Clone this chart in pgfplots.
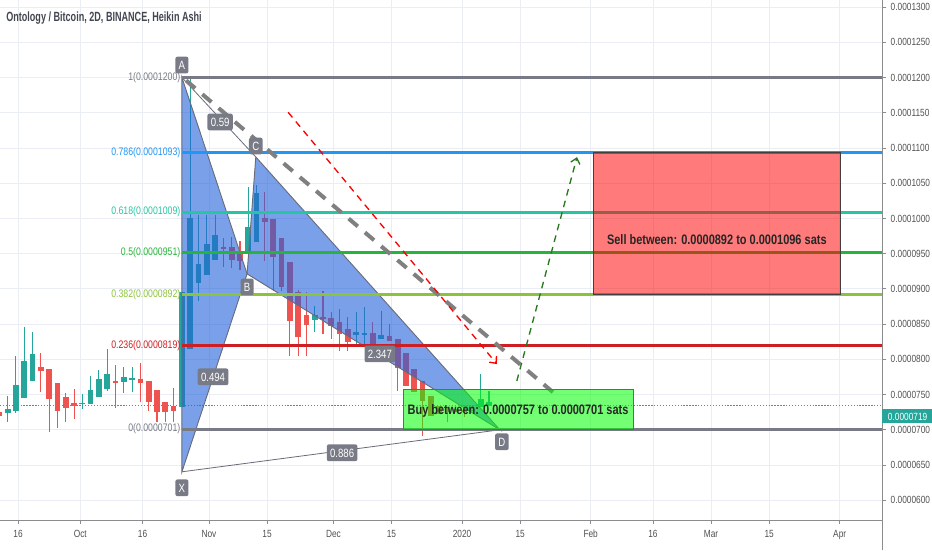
\documentclass[border=0pt]{standalone}
\usepackage{pgfplots}
\usepackage{pgfplotstable}
\pgfplotsset{compat=1.18}
\usetikzlibrary{arrows.meta}
\usepackage{fontspec}
\setmainfont{Liberation Sans}[FakeStretch=0.8]
\newfontfamily\condfont{Liberation Sans}[FakeStretch=0.68]

\definecolor{upcol}{RGB}{38,166,154}
\definecolor{dncol}{RGB}{239,83,80}
\definecolor{pat}{RGB}{33,96,220}
\definecolor{patedge}{RGB}{105,108,120}
\definecolor{lbl}{RGB}{120,123,134}
\definecolor{fibgray}{RGB}{120,123,134}
\definecolor{fibblue}{RGB}{33,150,243}
\definecolor{fibteal}{RGB}{38,198,160}
\definecolor{fibgreen}{RGB}{40,180,60}
\definecolor{fiblime}{RGB}{140,195,60}
\definecolor{fibred}{RGB}{205,30,35}
\definecolor{gridc}{RGB}{234,237,243}
\definecolor{tickc}{RGB}{80,80,80}
\definecolor{axc}{RGB}{140,140,140}
\definecolor{titlec}{RGB}{67,70,81}
\definecolor{arrgreen}{RGB}{40,120,30}

% prices in units of 1e-7 BTC (1200 = 0.0001200), x = days after 1 Sep 2019
% Heikin Ashi 2D candles: d open high low close
\pgfplotstableread{
d o h l c
12.5 724.1 748.1 711.3 729.7
14.5 726.9 804.6 724.0 763.6
16.5 745.3 845.5 745.3 797.5
18.5 769.2 838.5 769.2 807.4
30.5 736.8 750.9 729.7 738.2
32.5 736.8 776.3 736.8 756.6
34.5 746.7 784.8 746.7 772.1
36.5 758.0 814.4 755.1 779.2
40.5 767.8 789.0 752.3 774.9
42.5 770.7 789.0 753.7 773.5
54.5 732.5 895.0 732.5 895.0
56.5 814.4 1200 814.4 1000.9
58.5 907.7 1005.1 882.3 935.9
60.5 920.4 1005.1 920.4 964.2
62.5 941.6 1005.1 941.6 976.9
70.5 951.5 1044.7 951.5 988.2
72.5 967.0 1047.5 967.0 1036.2
86.5 855.4 875.2 838.5 862.5
96.5 834.2 866.7 821.5 838.5
98.5 835.6 873.8 821.5 837.1
102.5 828.6 868.1 828.6 834.2
126.5 732.5 779.2 732.5 743.8
128.5 733.9 755.1 733.9 739.6
}\upcandles

\pgfplotstableread{
d o h l c
10.5 725.5 743.8 691.6 719.8
20.5 789.0 808.8 753.7 783.4
22.5 786.2 786.2 697.2 743.8
24.5 766.4 766.4 702.9 726.9
26.5 746.7 752.3 711.3 731.1
28.5 738.2 758.0 715.6 733.9
38.5 769.2 791.8 731.1 767.8
44.5 772.1 794.7 739.6 766.4
46.5 769.2 769.2 726.9 739.6
48.5 756.6 756.6 711.3 725.5
50.5 739.6 739.6 711.3 725.5
52.5 733.9 759.4 711.3 726.9
64.5 959.9 972.7 931.7 957.1
66.5 959.9 974.0 930.0 941.6
68.5 954.3 967.4 927.5 940.2
74.5 1000.9 1038.0 939.0 995.2
76.5 999.5 999.5 896.4 945.8
78.5 972.7 972.7 896.4 902.0
80.5 938.7 938.7 804.6 854.0
82.5 895.0 898.0 804.6 831.4
84.5 862.5 895.0 804.6 848.3
88.5 859.6 896.4 835.6 856.8
90.5 858.2 866.7 828.6 846.9
92.5 852.6 871.0 811.6 835.6
94.5 842.7 859.6 811.6 824.3
100.5 837.1 852.6 821.5 821.5
104.5 832.8 849.8 825.8 825.8
106.5 828.6 828.6 755.1 787.6
108.5 808.8 808.8 762.2 762.2
110.5 786.2 786.2 753.7 753.7
112.5 769.2 769.2 691.6 741.0
114.5 748.1 748.1 719.8 719.8
116.5 733.9 733.9 722.7 722.7
118.5 732.5 732.5 711.3 725.5
120.5 729.7 729.7 725.5 725.5
122.5 728.3 729.0 718.0 725.5
124.5 728.3 728.3 726.9 726.9
}\dncandles

\pgfplotsset{
  wick/.style={draw=none, mark=none, forget plot,
    error bars/.cd, y dir=both, y explicit, error mark=none,
    error bar style={draw=#1, line width=0.8pt}},
  body/.style={draw=none, mark=none, forget plot,
    error bars/.cd, y dir=both, y explicit, error mark=none,
    error bar style={draw=#1, line width=4.3pt}},
}
\tikzset{
  pl/.style={fill=lbl, text=white, rounded corners=1.5pt, inner xsep=2.5pt,
    inner ysep=3pt, text height=6.5pt, text depth=0pt,
    font=\fontsize{9}{10}\selectfont},
  fl/.style={anchor=east, inner sep=1pt, text=#1, font=\fontsize{8.2}{9}\selectfont},
}

\begin{document}
\begin{tikzpicture}
\useasboundingbox (0,0) rectangle (699pt,412.5pt);
\begin{axis}[
  at={(0pt,22.5pt)}, anchor=south west,
  width=661.5pt, height=390pt, scale only axis,
  xmin=10.66, xmax=223.2, ymin=572, ymax=1310,
  axis x line*=bottom, axis y line*=right,
  axis line style={draw=axc, line width=0.6pt},
  xtick={15,30,45,61,75,91,105,122,136,153,168,182,196,213},
  xticklabels={16,Oct,16,Nov,15,Dec,15,2020,15,Feb,16,Mar,15,Apr},
  ytick={600,650,...,1300},
  yticklabels={0.0000600,0.0000650,0.0000700,0.0000750,0.0000800,0.0000850,0.0000900,0.0000950,0.0001000,0.0001050,0.0001100,0.0001150,0.0001200,0.0001250,0.0001300},
  grid=major, major grid style={draw=gridc, line width=0.6pt},
  tick style={draw=axc, line width=0.6pt}, major tick length=3pt,
  tick align=outside,
  ticklabel style={font=\fontsize{7.8}{8}\selectfont, text=tickc},
  xticklabel style={yshift=-1pt},
  /pgf/number format/assume math mode=true,
  clip mode=individual,
]
% last price line
\addplot[upcol, line width=0.7pt, dash pattern=on 1pt off 1.2pt, forget plot] coordinates {(10.66,734) (223.2,734)};

% candles
\addplot[wick=upcol] table[x=d, y expr={(\thisrow{h}+\thisrow{l})/2}, y error expr={(\thisrow{h}-\thisrow{l})/2}] {\upcandles};
\addplot[body=upcol] table[x=d, y expr={(\thisrow{o}+\thisrow{c})/2}, y error expr={max(abs(\thisrow{c}-\thisrow{o})/2,0.6)}] {\upcandles};
\addplot[wick=dncol] table[x=d, y expr={(\thisrow{h}+\thisrow{l})/2}, y error expr={(\thisrow{h}-\thisrow{l})/2}] {\dncandles};
\addplot[body=dncol] table[x=d, y expr={(\thisrow{o}+\thisrow{c})/2}, y error expr={max(abs(\thisrow{c}-\thisrow{o})/2,0.6)}] {\dncandles};

% XABCD pattern
\addplot[fill=pat, fill opacity=0.6, draw=patedge, line width=0.7pt] coordinates {(54.5,640.4) (54.5,1200) (70.2,921.3)} -- cycle;
\addplot[fill=pat, fill opacity=0.6, draw=patedge, line width=0.7pt] coordinates {(70.2,921.3) (72.3,1087.2) (131.1,700.0)} -- cycle;
\addplot[patedge, line width=0.6pt] coordinates {(54.5,1200) (72.3,1087.2)};
\addplot[patedge, line width=0.6pt] coordinates {(54.5,640.4) (131.1,700.0)};

% fib levels
\addplot[fibgray, line width=2.2pt] coordinates {(54.5,1200) (223.2,1200)};
\addplot[fibblue, line width=2.2pt] coordinates {(54.5,1093) (223.2,1093)};
\addplot[fibteal, line width=2.2pt] coordinates {(54.5,1009) (223.2,1009)};
\addplot[fibgreen, line width=2.2pt] coordinates {(54.5,951) (223.2,951)};
\addplot[fiblime, line width=2.2pt] coordinates {(54.5,892) (223.2,892)};
\addplot[fibred, line width=2.2pt] coordinates {(54.5,819) (223.2,819)};
\addplot[fibgray, line width=2.2pt] coordinates {(54.5,701) (223.2,701)};
\node[fl=fibgray] at (axis cs:54.5,1200) {1(0.0001200)};
\node[fl=fibblue] at (axis cs:54.5,1093) {0.786(0.0001093)};
\node[fl=fibteal] at (axis cs:54.5,1009) {0.618(0.0001009)};
\node[fl=fibgreen] at (axis cs:54.5,951) {0.5(0.0000951)};
\node[fl=fiblime] at (axis cs:54.5,892) {0.382(0.0000892)};
\node[fl=fibred] at (axis cs:54.5,819) {0.236(0.0000819)};
\node[fl=fibgray] at (axis cs:54.5,701) {0(0.0000701)};

% trend and projection arrows
\addplot[draw=gray, line width=3pt, dash pattern=on 9pt off 7pt] coordinates {(55.5,1195.8) (144.4,750.9)};
\addplot[draw=red, line width=1pt, dash pattern=on 5pt off 4pt, -{Straight Barb[length=4pt,width=7pt]}] coordinates {(80.1,1150.6) (130.4,793.3)};
\addplot[draw=arrgreen, line width=1pt, dash pattern=on 5pt off 4pt, -{Straight Barb[length=4pt,width=7pt]}] coordinates {(135.2,769.3) (149.7,1087)};

% zones
\addplot[fill=red, fill opacity=0.52, draw=black!75, line width=0.6pt] coordinates {(153.6,892) (213.1,892) (213.1,1093) (153.6,1093)} -- cycle;
\addplot[fill=green, fill opacity=0.55, draw=black!60, line width=0.6pt] coordinates {(107.8,701) (163.2,701) (163.2,757) (107.8,757)} -- cycle;
\node[font=\fontsize{10.3}{12}\selectfont\bfseries, text=black!85] at (axis cs:183.4,969.8) {Sell between: 0.0000892 to 0.0001096 sats};
\node[font=\fontsize{10.3}{12}\selectfont\bfseries, text=black!85] at (axis cs:135.5,727) {Buy between: 0.0000757 to 0.0000701 sats};

% pattern labels
\node[pl] at (axis cs:54.5,1217.7) {A};
\node[pl] at (axis cs:70.2,902.8) {B};
\node[pl] at (axis cs:72.3,1102.8) {C};
\node[pl] at (axis cs:131.6,683) {D};
\node[pl] at (axis cs:54.5,617.7) {X};
\node[pl] at (axis cs:63.7,1136.9) {0.59};
\node[pl] at (axis cs:62,775.2) {0.494};
\node[pl] at (axis cs:102.2,807.8) {2.347};
\node[pl] at (axis cs:93.1,667.4) {0.886};

% last price tag
\node[fill=upcol, text=white, anchor=west, inner xsep=3.5pt, inner ysep=2.5pt, minimum width=38pt, text height=5.6pt, text depth=0pt,
  font=\fontsize{7.8}{8}\selectfont] at (axis cs:223.2,719) {0.0000719};
\end{axis}
\draw[axc, line width=0.6pt] (661.5pt,22.5pt) -- (661.5pt,0pt);
\node[anchor=west, inner sep=0pt, text=titlec, font=\condfont\fontsize{10}{11}\selectfont\bfseries] at (4.5pt,399pt) {Ontology / Bitcoin, 2D, BINANCE, Heikin Ashi};
\end{tikzpicture}
\end{document}
